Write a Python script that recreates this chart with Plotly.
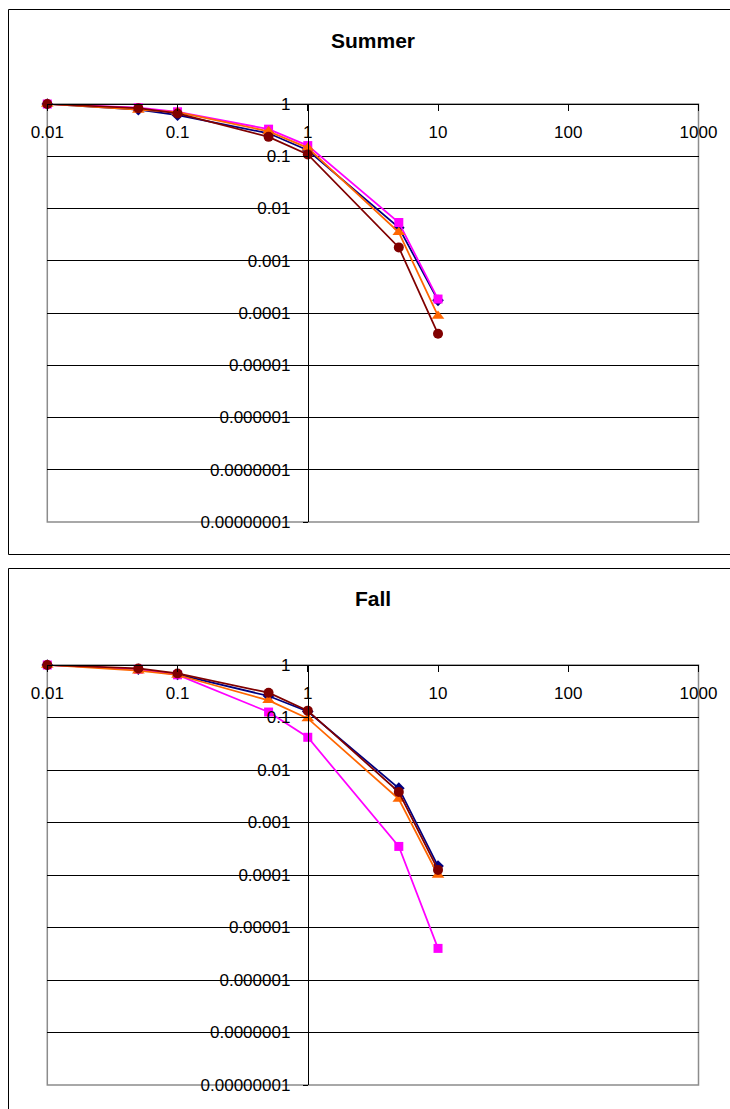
import plotly.graph_objects as go

# Distances sampled (log scale)
distance = [0.01, 0.05, 0.1, 0.5, 1, 5, 10]

# Summer exceedance curves
summer_s1 = [1, 0.78, 0.61, 0.275, 0.13, 0.0043, 0.000175]
summer_s2 = [1, 0.85, 0.71, 0.33, 0.16, 0.0054, 0.000185]
summer_s3 = [1, 0.77, 0.70, 0.30, 0.145, 0.0035, 0.000088]
summer_s4 = [1, 0.83, 0.66, 0.235, 0.108, 0.0018, 0.00004]

# Fall exceedance curves
fall_s1 = [1, 0.83, 0.66, 0.257, 0.13, 0.0045, 0.000148]
fall_s2 = [1, 0.83, 0.65, 0.127, 0.042, 0.00035, 0.000004]
fall_s3 = [1, 0.78, 0.645, 0.212, 0.096, 0.0028, 0.0001]
fall_s4 = [1, 0.86, 0.69, 0.297, 0.135, 0.0038, 0.000125]

panel_titles = ["Summer", "Fall"]

x_ticks = [0.01, 0.1, 1, 10, 100, 1000]
x_tick_text = ["0.01", "0.1", "1", "10", "100", "1000"]
y_ticks = [1, 0.1, 0.01, 0.001, 0.0001, 0.00001, 0.000001, 0.0000001, 0.00000001]
y_tick_text = ["1", "0.1", "0.01", "0.001", "0.0001", "0.00001",
               "0.000001", "0.0000001", "0.00000001"]

series_names = ["Series 1", "Series 2", "Series 3", "Series 4"]
colors = ["#000080", "#FF00FF", "#FF6600", "#800000"]
symbols = ["diamond", "square", "triangle-up", "circle"]
sizes = [9, 9, 11, 10]

W, H = 730, 1109


def px_x(p):
    return p / W


def px_y(p):
    return 1 - p / H


fig = go.Figure()

panel_series = [
    ([summer_s1, summer_s2, summer_s3, summer_s4], "x", "y"),
    ([fall_s1, fall_s2, fall_s3, fall_s4], "x2", "y2"),
]

for series, xa, ya in panel_series:
    for name, vals, c, sym, sz in zip(series_names, series, colors, symbols, sizes):
        fig.add_trace(go.Scatter(
            x=distance, y=vals, name=name, mode="lines+markers",
            line=dict(color=c, width=1.75),
            marker=dict(color=c, symbol=sym, size=sz, line=dict(width=0)),
            xaxis=xa, yaxis=ya, showlegend=False, cliponaxis=False,
        ))

font_family = "Liberation Sans, Arial, sans-serif"
tick_font = dict(family=font_family, size=17, color="#000000")

# plot-area pixel boxes: (left, right, top, bottom)
boxes = [(47.3, 698.5, 104.0, 522.0), (47.3, 698.5, 665.0, 1085.0)]
frames = [(8.5, 9.5, 554.5), (8.5, 568.5, 1120)]
title_y = [40, 598.5]

layout_axes = {}
shapes = []
annotations = []
for i, ((l, r, t, b), (fl, ft, fb), ty, ttl) in enumerate(
        zip(boxes, frames, title_y, panel_titles)):
    sfx = "" if i == 0 else "2"
    xdom = [px_x(l), px_x(r)]
    ydom = [px_y(b), px_y(t)]
    ypos = xdom[0] + (xdom[1] - xdom[0]) * 2 / 5  # y axis crosses at x = 1
    layout_axes["xaxis" + sfx] = dict(
        type="log", range=[-2, 3], domain=xdom, anchor="free", position=ydom[1],
        side="bottom", showgrid=False, zeroline=False, automargin=False,
        showline=True, linecolor="#000000", linewidth=1,
        ticks="outside", ticklen=6, tickcolor="#000000", tickwidth=1,
        tickvals=x_ticks, ticktext=x_tick_text, tickfont=tick_font,
        ticklabelstandoff=7,
    )
    layout_axes["yaxis" + sfx] = dict(
        type="log", range=[-8, 0], domain=ydom, anchor="free", position=ypos,
        side="left", showgrid=True, gridcolor="#000000", gridwidth=1,
        zeroline=False, automargin=False,
        showline=True, linecolor="#000000", linewidth=1,
        ticks="outside", ticklen=5, tickcolor="#000000", tickwidth=1,
        tickvals=y_ticks, ticktext=y_tick_text, tickfont=tick_font,
        ticklabelstandoff=9,
    )
    # plot-area border (gray)
    shapes.append(dict(type="rect", xref="paper", yref="paper",
                       x0=xdom[0], x1=xdom[1], y0=ydom[0], y1=ydom[1],
                       line=dict(color="#8c8c8c", width=1.5), layer="between"))
    # outer chart frame
    shapes.append(dict(type="rect", xref="paper", yref="paper",
                       x0=px_x(fl), x1=px_x(W + 20), y0=px_y(fb), y1=px_y(ft),
                       line=dict(color="#000000", width=1), layer="below"))
    annotations.append(dict(text="<b>%s</b>" % ttl, xref="paper", yref="paper",
                            x=px_x(373), y=px_y(ty), xanchor="center", yanchor="middle",
                            showarrow=False,
                            font=dict(family=font_family, size=21, color="#000000")))

fig.update_layout(
    width=W, height=H,
    margin=dict(l=0, r=0, t=0, b=0, pad=0),
    paper_bgcolor="#ffffff", plot_bgcolor="#ffffff",
    shapes=shapes, annotations=annotations,
    **layout_axes,
)

fig.write_html("out.html")
